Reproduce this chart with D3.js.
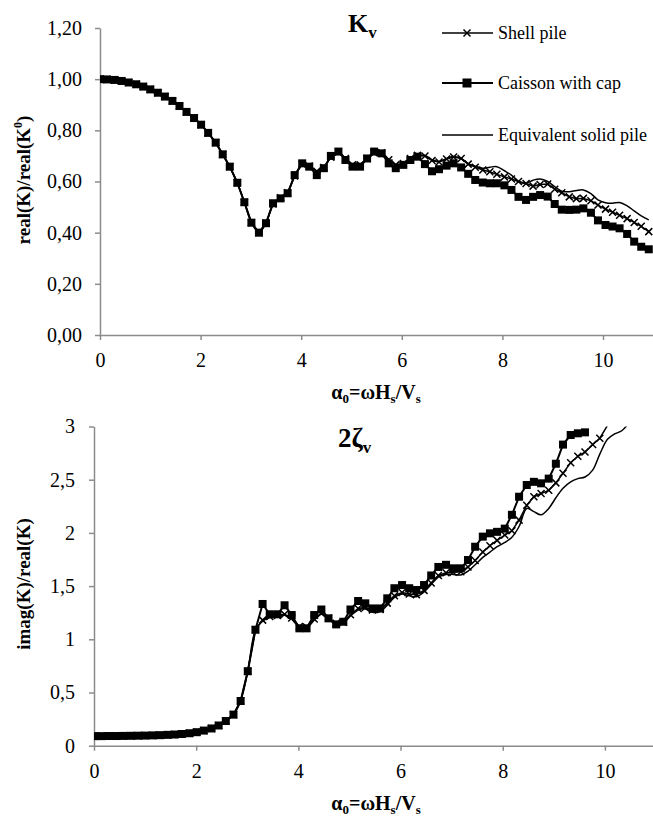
<!DOCTYPE html>
<html><head><meta charset="utf-8">
<script src="https://cdn.jsdelivr.net/npm/d3@7"></script>
<style>body{margin:0;background:#fff} svg{display:block} text{font-family:"Liberation Serif","Times New Roman",Times,serif}</style>
</head><body>
<svg id="c" width="653" height="818"></svg>
<script>
// ---------- DATA ----------
const alpha = [0.00,0.14,0.29,0.43,0.57,0.72,0.86,1.00,1.15,1.29,
1.44,1.58,1.72,1.87,2.01,2.15,2.30,2.44,2.58,2.73,
2.87,3.01,3.16,3.30,3.44,3.59,3.73,3.87,4.02,4.16,
4.31,4.45,4.59,4.74,4.88,5.02,5.17,5.31,5.45,5.60,
5.74,5.88,6.03,6.17,6.31,6.46,6.60,6.74,6.89,7.03,
7.18,7.32,7.46,7.61,7.75,7.89,8.04,8.18,8.32,8.47,
8.61,8.75,8.90,9.04,9.18,9.33,9.47,9.61,9.76,9.90,
10.05,10.19,10.33,10.48,10.62,10.76,10.91];

const seriesNames = ["Shell pile","Caisson with cap","Equivalent solid pile"];

const realCaisson = [1.000,0.999,0.997,0.993,0.987,0.980,0.971,0.960,0.947,0.932,
0.915,0.895,0.872,0.848,0.822,0.790,0.752,0.706,0.658,0.595,
0.519,0.439,0.400,0.437,0.515,0.534,0.554,0.625,0.671,0.658,
0.625,0.652,0.700,0.717,0.684,0.658,0.658,0.690,0.717,0.710,
0.671,0.652,0.665,0.684,0.697,0.668,0.640,0.648,0.662,0.671,
0.655,0.630,0.606,0.596,0.593,0.593,0.585,0.567,0.540,0.528,
0.540,0.547,0.541,0.512,0.490,0.489,0.490,0.495,0.478,0.448,
0.430,0.424,0.417,0.395,0.365,0.345,0.335];

const realShell = [1.000,0.999,0.997,0.993,0.987,0.980,0.971,0.960,0.947,0.932,
0.915,0.895,0.872,0.848,0.822,0.790,0.752,0.706,0.658,0.595,
0.519,0.439,0.400,0.437,0.512,0.536,0.556,0.622,0.668,0.660,
0.640,0.655,0.695,0.715,0.690,0.665,0.665,0.690,0.712,0.712,
0.685,0.665,0.670,0.690,0.702,0.700,0.682,0.676,0.688,0.696,
0.690,0.668,0.656,0.645,0.638,0.628,0.618,0.610,0.600,0.592,
0.582,0.588,0.590,0.570,0.556,0.540,0.533,0.534,0.525,0.508,
0.492,0.480,0.468,0.455,0.440,0.425,0.404];

const realSolid = [1.000,0.999,0.997,0.993,0.987,0.980,0.971,0.960,0.947,0.932,
0.915,0.895,0.872,0.848,0.822,0.790,0.752,0.706,0.658,0.595,
0.519,0.439,0.400,0.437,0.510,0.537,0.558,0.620,0.666,0.661,
0.642,0.656,0.694,0.714,0.691,0.666,0.666,0.690,0.711,0.713,
0.687,0.667,0.671,0.690,0.702,0.702,0.685,0.678,0.690,0.698,
0.690,0.670,0.660,0.652,0.656,0.658,0.642,0.625,0.600,0.593,
0.605,0.610,0.600,0.580,0.562,0.560,0.565,0.567,0.553,0.528,
0.517,0.515,0.518,0.505,0.485,0.466,0.450];

const imagCaisson = [0.090,0.090,0.091,0.091,0.092,0.093,0.094,0.095,0.097,0.099,
0.102,0.105,0.110,0.117,0.127,0.142,0.162,0.190,0.232,0.292,
0.420,0.700,1.090,1.332,1.235,1.235,1.320,1.228,1.103,1.103,
1.228,1.280,1.197,1.140,1.165,1.280,1.360,1.338,1.290,1.290,
1.385,1.480,1.510,1.480,1.463,1.510,1.600,1.680,1.700,1.667,
1.667,1.745,1.870,1.965,1.996,2.010,2.040,2.170,2.340,2.450,
2.480,2.466,2.510,2.650,2.830,2.920,2.936,2.945];

const imagShell = [0.090,0.090,0.091,0.091,0.092,0.093,0.094,0.095,0.097,0.099,
0.102,0.105,0.110,0.117,0.127,0.142,0.162,0.190,0.232,0.292,
0.420,0.700,1.090,1.180,1.215,1.225,1.235,1.200,1.120,1.115,
1.190,1.245,1.200,1.150,1.160,1.230,1.290,1.300,1.275,1.280,
1.340,1.410,1.440,1.425,1.420,1.460,1.530,1.600,1.625,1.630,
1.635,1.680,1.740,1.820,1.880,1.930,1.980,2.020,2.120,2.260,
2.340,2.370,2.400,2.470,2.560,2.660,2.720,2.760,2.830,2.890,
3.010];

const imagSolid = [0.090,0.090,0.091,0.091,0.092,0.093,0.094,0.095,0.097,0.099,
0.102,0.105,0.110,0.117,0.127,0.142,0.162,0.190,0.232,0.292,
0.420,0.700,1.090,1.170,1.205,1.215,1.225,1.190,1.110,1.105,
1.180,1.235,1.190,1.140,1.150,1.220,1.275,1.285,1.255,1.260,
1.320,1.395,1.425,1.410,1.400,1.445,1.515,1.585,1.610,1.610,
1.605,1.640,1.700,1.770,1.820,1.870,1.910,1.960,2.060,2.230,
2.200,2.170,2.230,2.330,2.420,2.480,2.510,2.525,2.590,2.740,
2.880,2.930,2.960,3.040];

const xTicks = [0,2,4,6,8,10];
const yTicksTop = [0,0.2,0.4,0.6,0.8,1.0,1.2];
const yTicksBottom = [0,0.5,1,1.5,2,2.5,3];

// ---------- DRAW ----------
const svg = d3.select("#c");
const FONT = "Liberation Serif, Times New Roman, Times, serif";
const loc = d3.formatLocale({decimal:",",thousands:".",grouping:[3],currency:["",""]});
const AX = "#8c8c8c";

let clipId = 0;
function panel(o){
  const x = d3.scaleLinear().domain([0,11]).range([o.x0,o.x1]);
  const y = d3.scaleLinear().domain([0,o.ymax]).range([o.yb,o.yt]);
  const g = svg.append("g");

  const xa = g.append("g").attr("transform",`translate(0,${o.yb})`)
    .call(d3.axisBottom(x).tickValues(xTicks).tickSize(5).tickSizeOuter(0).tickPadding(13).tickFormat(d3.format("d")));
  const ya = g.append("g").attr("transform",`translate(${o.x0},0)`)
    .call(d3.axisLeft(y).tickValues(o.yTicks).tickSize(5).tickSizeOuter(0).tickPadding(o.ypad).tickFormat(o.fmt));
  [xa,ya].forEach(a=>{
    a.attr("font-family",FONT);
    a.select(".domain").attr("stroke",AX).attr("stroke-width",1.5);
    a.selectAll(".tick line").attr("stroke",AX).attr("stroke-width",1.5);
    a.selectAll(".tick text").style("font-family",FONT).attr("font-size",20).attr("fill","#000");
  });

  const id = "clip"+(clipId++);
  svg.append("clipPath").attr("id",id).append("rect")
    .attr("x",o.x0).attr("y",o.yt).attr("width",o.x1-o.x0+5).attr("height",o.yb-o.yt+5);
  const plot = g.append("g").attr("clip-path",`url(#${id})`);

  const mk = arr => arr.map((v,i)=>[alpha[i],v]);
  const lin = d3.line().x(d=>x(d[0])).y(d=>y(d[1]));
  const smooth = d3.line().x(d=>x(d[0])).y(d=>y(d[1])).curve(d3.curveCatmullRom.alpha(0.5));

  const cz = mk(o.caisson), sh = mk(o.shell), so = mk(o.solid);

  plot.append("path").datum(cz).attr("d",lin).attr("fill","none").attr("stroke","#000").attr("stroke-width",2);
  plot.selectAll("rect.sq").data(cz.filter(d=>d[1]<=o.ymax)).join("rect").attr("class","sq")
    .attr("x",d=>x(d[0])-4).attr("y",d=>y(d[1])-4).attr("width",8).attr("height",8).attr("fill","#000");

  plot.append("path").datum(sh).attr("d",lin).attr("fill","none").attr("stroke","#000").attr("stroke-width",1.5);
  plot.selectAll("path.xm").data(sh.filter(d=>d[1]<=o.ymax)).join("path").attr("class","xm")
    .attr("transform",d=>`translate(${x(d[0])},${y(d[1])})`)
    .attr("d","M-3.5,-3.5L3.5,3.5M-3.5,3.5L3.5,-3.5").attr("stroke","#000").attr("stroke-width",1.5).attr("fill","none");

  plot.append("path").datum(so).attr("d",smooth).attr("fill","none").attr("stroke","#000").attr("stroke-width",1.5);

  // x title
  const xt = g.append("text").attr("x",376).attr("y",o.xtY).attr("text-anchor","middle")
    .style("font-family",FONT).attr("font-size",20).attr("font-weight","bold");
  xt.append("tspan").text("α");
  xt.append("tspan").attr("font-size",13).attr("dy",4).text("0");
  xt.append("tspan").attr("dy",-4).text("=ωH");
  xt.append("tspan").attr("font-size",13).attr("dy",4).text("s");
  xt.append("tspan").attr("dy",-4).text("/V");
  xt.append("tspan").attr("font-size",13).attr("dy",4).text("s");

  // y title
  const yt = g.append("text").attr("transform",`translate(30,${o.ytC}) rotate(-90)`).attr("text-anchor","middle")
    .style("font-family",FONT).attr("font-size",19).attr("font-weight","bold");
  o.ytitle(yt);
  return {x,y,g};
}

// top
panel({x0:100,x1:653.3,yt:28,yb:335,ymax:1.2,yTicks:yTicksTop,ypad:13,fmt:loc.format(".2f"),
  caisson:realCaisson,shell:realShell,solid:realSolid,xtY:399,ytC:180,
  ytitle:t=>{t.append("tspan").text("real(K)/real(K");t.append("tspan").attr("font-size",12).attr("dy",-8).text("0");t.append("tspan").attr("dy",8).text(")");}});
// bottom
panel({x0:94,x1:656,yt:426.5,yb:745.7,ymax:3,yTicks:yTicksBottom,ypad:14,fmt:loc.format(".1~f"),
  caisson:imagCaisson,shell:imagShell,solid:imagSolid,xtY:810,ytC:584,
  ytitle:t=>{t.text("imag(K)/real(K)");}});

// titles
const t1 = svg.append("text").attr("x",348).attr("y",32).style("font-family",FONT).attr("font-size",26).attr("font-weight","bold");
t1.append("tspan").text("K");
t1.append("tspan").attr("font-size",17).attr("dy",6).text("v");
const t2 = svg.append("text").attr("x",338).attr("y",447).style("font-family",FONT).attr("font-size",27).attr("font-weight","bold");
t2.append("tspan").text("2ζ");
t2.append("tspan").attr("font-size",17).attr("dy",6).text("v");

// legend
const lg = svg.append("g");
const rows = [33,83,135];
seriesNames.forEach((n,i)=>{
  const yy = rows[i];
  lg.append("line").attr("x1",442).attr("x2",493).attr("y1",yy).attr("y2",yy).attr("stroke","#000").attr("stroke-width",i===1?2:1.5);
  if(i===0) lg.append("path").attr("transform",`translate(467,${yy})`).attr("d","M-3.5,-3.5L3.5,3.5M-3.5,3.5L3.5,-3.5").attr("stroke","#000").attr("stroke-width",1.5);
  if(i===1) lg.append("rect").attr("x",467-4.5).attr("y",yy-4.5).attr("width",9).attr("height",9).attr("fill","#000");
  lg.append("text").attr("x",498).attr("y",yy).attr("dy","0.33em").style("font-family",FONT).attr("font-size",18).text(n);
});
</script>
</body></html>
